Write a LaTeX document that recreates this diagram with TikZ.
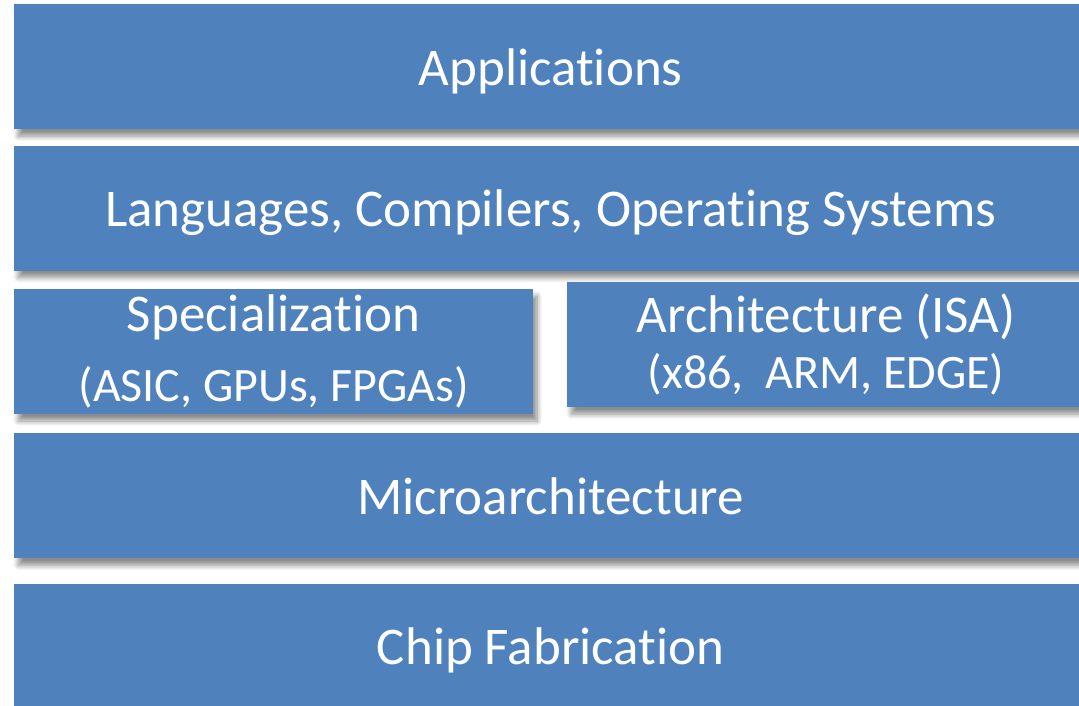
\documentclass[tikz,border=0pt]{standalone}
\usepackage{fontspec}
\setmainfont{Carlito}[Ligatures=NoCommon]
\usetikzlibrary{positioning,shadows.blur}
\definecolor{layer}{HTML}{4F81BD}
\newcommand{\subline}[1]{{\fontsize{48}{54}\selectfont #1}}
\tikzset{layerbox/.style={fill=layer,text=white,inner sep=0pt,anchor=north west,align=center,minimum height=125pt,font=\fontsize{53}{58}\selectfont,blur shadow={shadow xshift=4pt,shadow yshift=-7pt,shadow blur steps=10,shadow blur radius=5pt,shadow opacity=45}},
  wide/.style={minimum width=1073pt,text depth=0pt}}

\begin{document}
\begin{tikzpicture}[x=1pt,y=-1pt]
\useasboundingbox (0,0) rectangle (1079,706);
% stack of layers, top to bottom
\node[layerbox,wide] (apps) at (14,4) {Applications};
\node[layerbox,wide] (lang) at ([yshift=-16pt]apps.south west) {Languages, Compilers, Operating Systems};
\node[layerbox,minimum width=519pt] (spec) at ([yshift=-18pt]lang.south west) {Specialization\\[12pt]\subline{(ASIC, GPUs, FPGAs)}};
\node[layerbox,minimum width=518pt] (arch) at (567,282) {Architecture (ISA)\\[-2pt]\subline{(x86,\ \ ARM, EDGE)}};
\node[layerbox,wide] (micro) at ([yshift=-19pt]spec.south west) {Microarchitecture};
\node[layerbox,wide] (chip) at ([yshift=-25pt]micro.south west) {Chip Fabrication};
\end{tikzpicture}
\end{document}
